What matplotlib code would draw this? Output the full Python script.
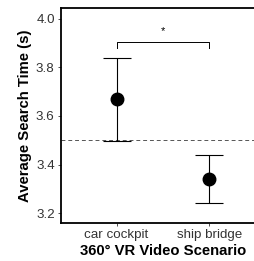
import matplotlib
matplotlib.use("Agg")
import matplotlib.pyplot as plt

plt.rcParams['font.family'] = ['Liberation Sans', 'DejaVu Sans']

scenarios = ["car cockpit", "ship bridge"]
means = [3.670, 3.342]
err_low = [0.172, 0.098]
err_high = [0.169, 0.097]
baseline = 3.5
sig_label = "*"
sig_y = 3.903
sig_drop = 0.022
yticks = [3.2, 3.4, 3.6, 3.8, 4.0]

fig = plt.figure(figsize=(2.54, 2.61), dpi=100)
ax = fig.add_axes([61 / 254, 1 - 222.7 / 261, (264.8 - 61) / 254, (222.7 - 8) / 261])

x = [1, 2]
ax.axhline(baseline, color="#555555", lw=0.7, ls=(0, (4, 3)), zorder=1)
ax.errorbar(x, means, yerr=[err_low, err_high], fmt="o", color="black",
            ms=9, elinewidth=0.8, capsize=10, capthick=0.8, zorder=3)

# significance bracket
ax.plot([1, 1, 2, 2], [sig_y - sig_drop, sig_y, sig_y, sig_y - sig_drop],
        color="black", lw=0.7)
ax.text(1.5, sig_y + 0.025, sig_label, ha="center", va="bottom", fontsize=8)

ax.set_xlim(0.4, 2.6)
ax.set_ylim(3.161, 4.044)
ax.set_xticks(x)
ax.set_xticklabels(scenarios)
ax.set_yticks(yticks)
ax.set_yticklabels([f"{v:.1f}" for v in yticks])
ax.tick_params(labelsize=9.6, colors="#333333", length=2.5, width=0.6, pad=2)

for s in ax.spines.values():
    s.set_linewidth(1.3)
    s.set_color("black")

ax.set_ylabel("Average Search Time (s)", fontsize=10.7, fontweight="bold", labelpad=3)
ax.set_xlabel("360° VR Video Scenario", fontsize=10.7, fontweight="bold", labelpad=2)

fig.savefig("out.png", dpi=100)
